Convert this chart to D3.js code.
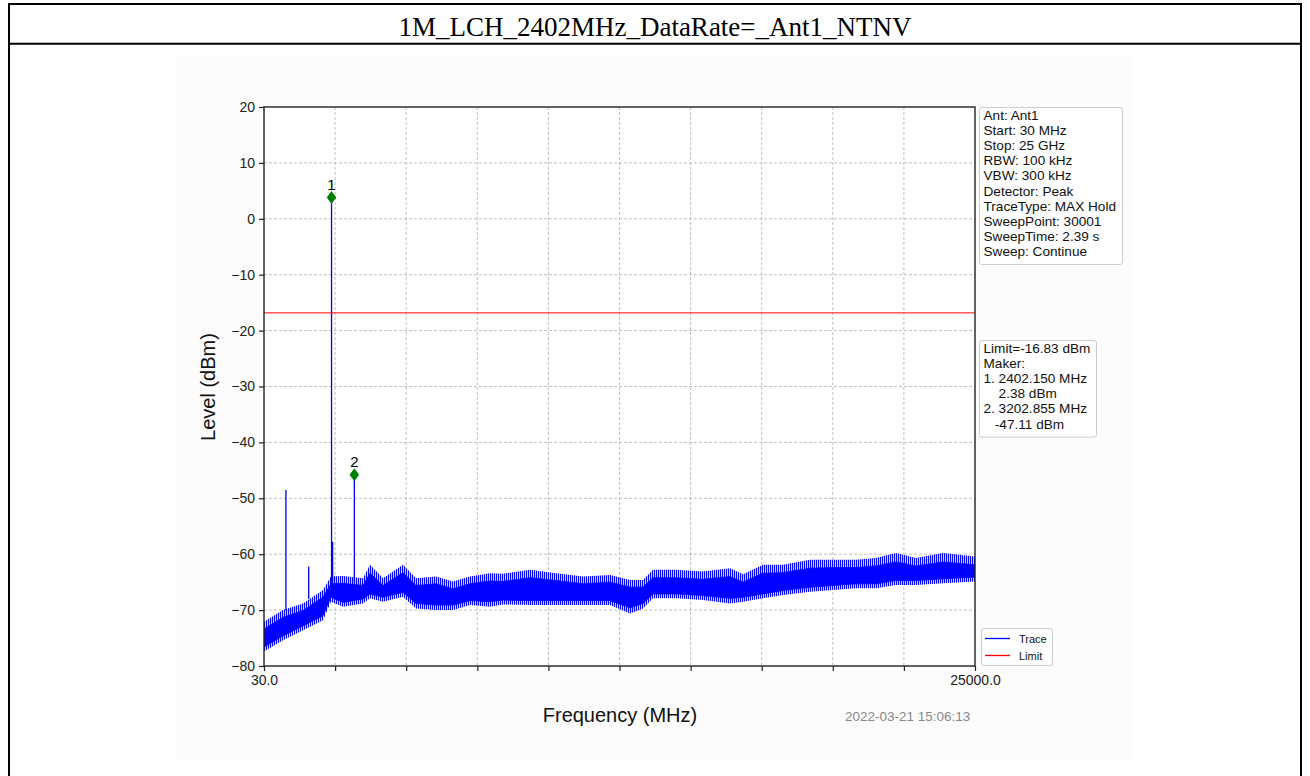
<!DOCTYPE html>
<html>
<head>
<meta charset="utf-8">
<script src="https://cdn.jsdelivr.net/npm/d3@7"></script>
<style>
  html, body { margin: 0; padding: 0; background: #ffffff; }
  svg { display: block; }
</style>
</head>
<body>
<svg id="chart" width="1310" height="776"></svg>
<script>
// ---------------- data ----------------
const titleText = "1M_LCH_2402MHz_DataRate=_Ant1_NTNV";
const xDomain = [30, 25000];
const yTicks = [20, 10, 0, -10, -20, -30, -40, -50, -60, -70, -80];
const xTickLabels = ["30.0", "", "", "", "", "", "", "", "", "", "25000.0"];

// Noise-floor envelope (MHz; peak-to-peak extremes and dense core, dBm)
const envFreq   = [30, 697, 1400, 2102, 2380, 2804, 3507, 3753, 4209, 4912, 5368, 6071, 6668, 7265, 7967, 8424,
                   9372, 10285, 11233, 12182, 12884, 13340, 13692, 14499, 15448, 16396, 16852, 17555, 18257, 19206,
                   20013, 20821, 21523, 22226, 22928, 23876, 25000];
const envUpper  = [-72.1, -70.0, -68.8, -66.4, -64.0, -63.9, -64.3, -61.9, -64.3, -61.9, -64.3, -64.0, -64.9, -64.0, -63.4, -63.5,
                   -62.8, -63.4, -64.0, -63.7, -64.6, -64.6, -62.8, -62.8, -63.1, -62.5, -63.6, -61.9, -61.9, -61.0,
                   -61.0, -61.0, -60.7, -59.8, -60.7, -59.8, -60.4];
const envLower  = [-77.4, -75.4, -73.6, -71.8, -68.5, -69.4, -68.8, -67.9, -68.5, -67.6, -69.7, -70.0, -70.0, -69.1, -69.4, -69.0,
                   -69.1, -69.1, -69.1, -69.1, -70.6, -69.7, -67.9, -67.9, -68.2, -68.8, -68.5, -67.9, -67.3, -66.7,
                   -66.4, -66.1, -66.1, -65.5, -65.5, -65.2, -64.9];
const coreUpper = [-73.4, -71.3, -70.1, -67.7, -65.3, -65.2, -65.6, -63.4, -65.6, -63.3, -65.6, -65.3, -66.2, -65.3, -64.8, -64.9,
                   -64.2, -64.7, -65.3, -65.0, -65.9, -65.9, -64.2, -64.2, -64.5, -64.0, -65.0, -63.4, -63.3, -62.5,
                   -62.4, -62.4, -62.1, -61.4, -62.1, -61.4, -61.9];
const coreLower = [-76.6, -74.6, -72.8, -71.0, -67.7, -68.6, -68.0, -67.1, -67.7, -66.8, -68.8, -69.1, -69.1, -68.3, -68.5, -68.2,
                   -68.3, -68.3, -68.3, -68.3, -69.6, -68.8, -67.1, -67.1, -67.4, -67.9, -67.7, -67.1, -66.5, -65.9,
                   -65.6, -65.3, -65.3, -64.7, -64.7, -64.4, -64.1];

// Discrete spurs / carrier
const spikeFreq  = [800, 1600, 2402, 2440, 3203];
const spikeBase  = [-70.0, -68.0, -66.0, -66.0, -66.5];
const spikeLevel = [-48.5, -62.2, 3.8, -57.8, -45.8];

// Markers
const markerLabels = ["1", "2"];
const markerFreq   = [2402.150, 3202.855];
const markerPlot   = [3.8, -45.8];

const limitLevel = -16.83;

const infoLines = ["Ant: Ant1", "Start: 30 MHz", "Stop: 25 GHz", "RBW: 100 kHz", "VBW: 300 kHz",
                   "Detector: Peak", "TraceType: MAX Hold", "SweepPoint: 30001", "SweepTime: 2.39 s", "Sweep: Continue"];
const markerLines = ["Limit=-16.83 dBm", "Maker:", "1. 2402.150 MHz", "    2.38 dBm", "2. 3202.855 MHz", "   -47.11 dBm"];
const legendNames = ["Trace", "Limit"];
const legendColors = ["#0000ff", "#ff0000"];
const xLabel = "Frequency (MHz)";
const yLabel = "Level (dBm)";
const stamp = "2022-03-21 15:06:13";

// ---------------- drawing ----------------
const svg = d3.select("#chart");
const sans = "Liberation Sans, Arial, Helvetica, sans-serif";

// pattern for the spiky noise fringe
const defs = svg.append("defs");
const pat = defs.append("pattern").attr("id", "spiky").attr("patternUnits", "userSpaceOnUse")
  .attr("width", 2).attr("height", 4);
pat.append("rect").attr("x", 0).attr("y", 0).attr("width", 1.2).attr("height", 4).attr("fill", "#0000ff");

// outer frame + title band
svg.append("rect").attr("x", 9).attr("y", 4).attr("width", 1292).attr("height", 790)
  .attr("fill", "none").attr("stroke", "#000").attr("stroke-width", 2);
svg.append("line").attr("x1", 9).attr("x2", 1301).attr("y1", 43.8).attr("y2", 43.8)
  .attr("stroke", "#000").attr("stroke-width", 2);
svg.append("text").attr("x", 655).attr("y", 36).attr("text-anchor", "middle")
  .attr("font-family", "Liberation Serif, Times New Roman, serif").attr("font-size", 27)
  .attr("fill", "#000").text(titleText);

// figure background
svg.append("rect").attr("x", 175).attr("y", 55).attr("width", 958).attr("height", 705)
  .attr("fill", "#fcfcfc");

const M = { left: 264, right: 975, top: 107, bottom: 666 };
const x = d3.scaleLinear().domain(xDomain).range([M.left, M.right]);
const y = d3.scaleLinear().domain([-80, 20]).range([M.bottom, M.top]);

// plot background
svg.append("rect").attr("x", M.left).attr("y", M.top).attr("width", M.right - M.left)
  .attr("height", M.bottom - M.top).attr("fill", "#ffffff");

// grid
const xTickVals = d3.range(11).map(i => xDomain[0] + (xDomain[1] - xDomain[0]) * i / 10);
const grid = svg.append("g").attr("stroke", "#b0b0b0").attr("stroke-width", 0.8)
  .attr("stroke-dasharray", "3,2");
xTickVals.slice(1, -1).forEach(v => {
  grid.append("line").attr("x1", x(v)).attr("x2", x(v)).attr("y1", M.top).attr("y2", M.bottom);
});
yTicks.slice(1, -1).forEach(v => {
  grid.append("line").attr("x1", M.left).attr("x2", M.right).attr("y1", y(v)).attr("y2", y(v));
});

// noise envelope
const env = envFreq.map((f, i) => ({ f, u: envUpper[i], l: envLower[i], cu: coreUpper[i], cl: coreLower[i] }));
svg.append("clipPath").attr("id", "pc").append("rect")
  .attr("x", M.left).attr("y", M.top).attr("width", M.right - M.left).attr("height", M.bottom - M.top);
const plotG = svg.append("g").attr("clip-path", "url(#pc)");
plotG.append("path").datum(env)
  .attr("d", d3.area().x(d => x(d.f)).y0(d => y(d.l)).y1(d => y(d.u)))
  .attr("fill", "url(#spiky)").attr("stroke", "none");
plotG.append("path").datum(env)
  .attr("d", d3.area().x(d => x(d.f)).y0(d => y(d.cl)).y1(d => y(d.cu)))
  .attr("fill", "#0000ff").attr("stroke", "#0000ff").attr("stroke-width", 0.8);

// spikes
spikeFreq.forEach((f, i) => {
  plotG.append("line").attr("x1", x(f)).attr("x2", x(f))
    .attr("y1", y(spikeBase[i])).attr("y2", y(spikeLevel[i]))
    .attr("stroke", "#0000ff").attr("stroke-width", 1.3);
});

// limit line
plotG.append("line").attr("x1", M.left).attr("x2", M.right)
  .attr("y1", y(limitLevel)).attr("y2", y(limitLevel))
  .attr("stroke", "#ff0000").attr("stroke-width", 1);

// markers
markerFreq.forEach((f, i) => {
  const cx = x(f), cy = y(markerPlot[i]);
  svg.append("path").attr("d", `M${cx},${cy - 6.5} L${cx + 4.8},${cy} L${cx},${cy + 6.5} L${cx - 4.8},${cy} Z`)
    .attr("fill", "#008000");
  svg.append("text").attr("x", cx).attr("y", cy - 8).attr("text-anchor", "middle")
    .attr("font-family", sans).attr("font-size", 15).attr("fill", "#000").text(markerLabels[i]);
});

// axes frame
svg.append("rect").attr("x", M.left).attr("y", M.top).attr("width", M.right - M.left)
  .attr("height", M.bottom - M.top).attr("fill", "none").attr("stroke", "#222").attr("stroke-width", 1.4);

// y axis
const yAxis = d3.axisLeft(y).tickValues(yTicks).tickSize(5).tickPadding(4)
  .tickFormat(d => d < 0 ? "\u2212" + Math.abs(d) : String(d));
const yg = svg.append("g").attr("transform", `translate(${M.left},0)`).call(yAxis);
yg.select(".domain").remove();
yg.selectAll("line").attr("stroke", "#222").attr("stroke-width", 1.2);
yg.selectAll("text").attr("font-family", sans).attr("font-size", 14).attr("fill", "#222");

// x axis
const xAxis = d3.axisBottom(x).tickValues(xTickVals).tickSize(5).tickPadding(4)
  .tickFormat((d, i) => xTickLabels[i]);
const xg = svg.append("g").attr("transform", `translate(0,${M.bottom})`).call(xAxis);
xg.select(".domain").remove();
xg.selectAll("line").attr("stroke", "#222").attr("stroke-width", 1.2);
xg.selectAll("text").attr("font-family", sans).attr("font-size", 14).attr("fill", "#222");

// axis labels
svg.append("text").attr("x", 620).attr("y", 722).attr("text-anchor", "middle")
  .attr("font-family", sans).attr("font-size", 20).attr("fill", "#111").text(xLabel);
svg.append("text").attr("transform", "translate(215,387) rotate(-90)").attr("text-anchor", "middle")
  .attr("font-family", sans).attr("font-size", 20).attr("fill", "#111").text(yLabel);
svg.append("text").attr("x", 845).attr("y", 721).attr("font-family", sans).attr("font-size", 13.5)
  .attr("fill", "#888").text(stamp);

// info boxes
function infoBox(x0, y0, w, lines, lh) {
  const h = lines.length * lh + 6;
  svg.append("rect").attr("x", x0).attr("y", y0).attr("width", w).attr("height", h)
    .attr("rx", 2.5).attr("fill", "#ffffff").attr("stroke", "#cccccc").attr("stroke-width", 1);
  lines.forEach((t, i) => {
    svg.append("text").attr("x", x0 + 4).attr("y", y0 + 12.5 + i * lh)
      .attr("font-family", sans).attr("font-size", 13.6).attr("fill", "#111")
      .attr("xml:space", "preserve").style("white-space", "pre").text(t);
  });
}
infoBox(979.5, 107.5, 143, infoLines, 15.1);
infoBox(979.5, 340.5, 117, markerLines, 15.1);

// legend
svg.append("rect").attr("x", 981.5).attr("y", 628.5).attr("width", 71).attr("height", 37)
  .attr("rx", 2.5).attr("fill", "#ffffff").attr("stroke", "#cccccc").attr("stroke-width", 1);
legendNames.forEach((n, i) => {
  const ly = 638.5 + i * 17;
  svg.append("line").attr("x1", 985).attr("x2", 1010).attr("y1", ly).attr("y2", ly)
    .attr("stroke", legendColors[i]).attr("stroke-width", 1.3);
  svg.append("text").attr("x", 1019).attr("y", ly + 4).attr("font-family", sans)
    .attr("font-size", 11).attr("fill", "#111").text(n);
});
</script>
</body>
</html>
